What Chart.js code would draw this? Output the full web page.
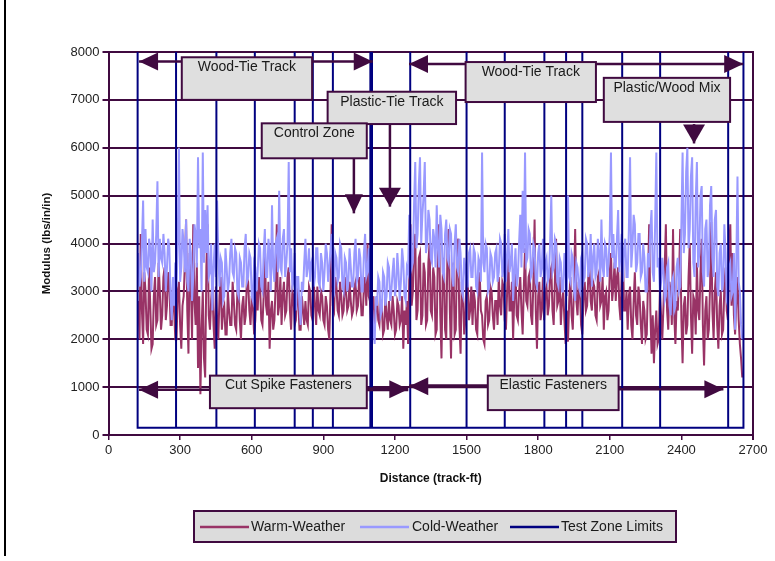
<!DOCTYPE html>
<html>
<head>
<meta charset="utf-8">
<script src="https://cdn.jsdelivr.net/npm/chart.js@4.4.1/dist/chart.umd.min.js"></script>
<style>
  html, body { margin: 0; padding: 0; background: #fff; }
  #wrap { position: relative; width: 775px; height: 561px; }
</style>
</head>
<body>
<div id="wrap"><canvas id="modChart" width="775" height="561"></canvas></div>
<script>
// readings every 5 track-ft, starting at 125 ft
const START_FT = 125;
const STEP_FT = 5;

const warmWeather = [
  2800, 2000, 4200, 2600, 1900, 3400, 3000, 2200, 2100, 3500, 2700, 1800, 1900, 2900, 3300, 2300, 2400, 3600, 3000, 2200,
  2500, 3300, 3500, 2400, 2700, 3400, 3200, 2300, 2300, 3100, 2600, 2000, 2000, 3000, 3200, 2300, 1800, 2700, 2900, 3600,
  4500, 2600, 1700, 3800, 3200, 2000, 4400, 2800, 2300, 3600, 1400, 2900, 850, 2200, 3000, 1600, 1200, 3500, 4400, 2500,
  2200, 2800, 3200, 2300, 1800, 3100, 2400, 2000, 2900, 3300, 2200, 2600, 2700, 2100, 2100, 3000, 2600, 2300, 2300, 3200,
  2800, 2300, 2200, 3000, 3100, 2400, 2000, 2700, 2900, 2300, 2500, 3300, 3200, 2600, 2300, 2900, 2700, 2100, 2400, 3000,
  2600, 3300, 3100, 2400, 2300, 2900, 4000, 2700, 2500, 3200, 1800, 2600, 2800, 2200, 2400, 3100, 4400, 2500, 2700, 3300,
  2300, 2900, 3200, 2500, 2600, 3300, 3500, 2600, 2200, 3000, 2900, 2300, 2400, 3100, 2800, 2200, 2200, 2900, 2600, 2300,
  2800, 2400, 2300, 3100, 3000, 2500, 2400, 3200, 2700, 2300, 3100, 2600, 2500, 3000, 2900, 2400, 2300, 2900, 2700, 2200,
  2000, 3000, 4400, 2700, 2600, 3300, 3100, 2600, 2500, 3200, 2900, 2500, 2600, 3300, 3000, 2600, 2700, 3200, 2800, 2500,
  2600, 3100, 3200, 2600, 2700, 3300, 3000, 2500, 2500, 3100, 3300, 2700, 4000, 2900, 2800, 2300, 2400, 2900, 2200, 2600,
  2900, 2400, 2300, 2800, 2700, 2100, 2200, 2900, 2500, 2200, 2800, 2400, 2300, 2900, 2600, 2100, 2200, 2800, 2700, 2300,
  2400, 2900, 1800, 2600, 2300, 2800, 1900, 3300, 4400, 2700, 3000, 3900, 4200, 2400, 2600, 3700, 3800, 2300, 2500, 3600,
  3400, 2300, 2400, 3600, 4000, 2600, 2500, 3500, 3300, 2100, 2200, 3800, 4400, 2500, 1600, 3300, 3700, 2200, 2000, 3900,
  4300, 2600, 1600, 3300, 3600, 2100, 2200, 3900, 4100, 2300, 1700, 3200, 3000, 2100, 2400, 3300, 3200, 2400, 2600, 3100,
  2300, 3000, 2800, 2200, 2100, 3000, 3400, 2600, 2500, 2000, 1900, 2800, 2900, 2300, 2400, 3100, 3000, 2500, 2200, 2800,
  2800, 2300, 3300, 2700, 2500, 3200, 3100, 2400, 2200, 3000, 3700, 2600, 2600, 3200, 2000, 2900, 3500, 2500, 2400, 3000,
  3300, 2600, 2100, 3100, 3900, 2800, 2700, 3300, 3400, 2500, 2300, 3200, 4500, 2600, 1800, 2900, 3200, 2400, 2600, 3300,
  2400, 3000, 3100, 2500, 2700, 3400, 3500, 2600, 2300, 3200, 4100, 2700, 2800, 3300, 2300, 2800, 3000, 2400, 1900, 2600,
  1950, 2800, 3300, 2500, 2200, 3100, 4300, 2800, 2500, 3200, 3000, 2300, 2100, 2900, 3200, 2600, 2700, 3300, 3500, 2800,
  2600, 3200, 3100, 2500, 2400, 3300, 3400, 2700, 2800, 3300, 2200, 2900, 3000, 2400, 2600, 3400, 3800, 2800, 3100, 3600,
  2800, 3300, 3500, 2700, 2400, 3400, 3800, 2600, 2600, 3000, 2200, 2900, 3100, 2300, 2000, 2800, 3400, 2500, 2300, 3100,
  2900, 2300, 1900, 2800, 2600, 2000, 2100, 3200, 4400, 2600, 1700, 2500, 1500, 2200, 2600, 1900, 2000, 3000, 2500, 2000,
  2700, 3500, 4400, 2600, 2200, 3200, 3000, 2300, 4300, 2500, 1900, 2800, 2600, 3300, 4300, 2400, 1500, 2700, 2900, 2100,
  2300, 3300, 4000, 2500, 1700, 2900, 2800, 2100, 3600, 2600, 2400, 3400, 4100, 2300, 1450, 2600, 2900, 2000, 2200, 3100,
  4450, 2600, 2000, 3000, 3400, 2300, 1800, 2700, 3000, 2100, 2200, 3100, 3500, 2600, 2400, 3900, 4400, 2700, 3800, 2500,
  2100, 2800, 3300, 2400, 1900, 1600, 1200
];

const coldWeather = [
  3800, 3100, 3300, 4000, 4900, 3200, 4300, 3500, 3400, 4100, 3900, 3000, 4500, 3400, 3600, 4200, 5300, 3300, 4100, 3700,
  3600, 4200, 3800, 3000, 3500, 4100, 3900, 2900, 2400, 3300, 2700, 3600, 3100, 4000, 6000, 3200, 3500, 4300, 4000, 3400,
  4500, 3200, 3000, 4100, 3800, 2800, 3300, 4400, 4200, 3500, 5800, 3900, 4300, 3000, 5900, 3600, 4700, 3800, 4800, 3300,
  3400, 4000, 2600, 3500, 4000, 3300, 4900, 3800, 3100, 3700, 3600, 2800, 2900, 3900, 3500, 3000, 3200, 3800, 4100, 3400,
  3300, 3900, 3800, 3000, 2900, 3700, 3600, 3100, 3100, 3900, 4200, 3200, 3300, 3800, 3700, 2900, 2800, 3600, 3500, 3000,
  3400, 4000, 3900, 3100, 3000, 3800, 4300, 3300, 3300, 4100, 3800, 3000, 4800, 3500, 3200, 4000, 4100, 3400, 5100, 3500,
  3400, 4100, 4300, 3300, 3600, 4000, 5700, 3400, 3900, 3100, 3200, 3800, 2600, 3300, 3300, 2700, 2300, 3200, 3000, 3600,
  4100, 3300, 3500, 3900, 3200, 3600, 3700, 3100, 3300, 3900, 3900, 3200, 3100, 3800, 3600, 3000, 3400, 4000, 3800, 3200,
  3500, 3900, 4200, 3100, 3000, 3800, 3700, 3200, 3300, 4000, 3900, 3100, 3000, 3700, 3600, 3000, 3200, 3900, 3500, 3100,
  3100, 3800, 4100, 3200, 3300, 3900, 3700, 3000, 3000, 3800, 4200, 3300, 3400, 3900, 3200, 2700, 2600, 2200, 1900, 2900,
  2700, 3300, 3200, 2500, 2600, 3400, 3300, 2700, 2900, 3600, 3500, 2800, 3000, 3400, 3700, 2900, 3100, 3800, 3400, 2800,
  3200, 3900, 3600, 2900, 2800, 3500, 3400, 4600, 4300, 3500, 3600, 4800, 5700, 3900, 4200, 5200, 5800, 4000, 4600, 5000,
  5700, 3800, 4000, 4700, 4500, 3700, 3600, 4300, 4100, 3500, 4800, 3900, 3500, 4600, 4300, 3400, 3300, 4200, 4500, 3700,
  3600, 4300, 4200, 3300, 3100, 4000, 4400, 3500, 3400, 4100, 3800, 3000, 2900, 3700, 3500, 3100, 3100, 3800, 3900, 3300,
  3300, 3900, 3800, 3100, 3000, 3700, 3600, 3200, 5900, 3600, 3400, 4000, 3900, 3000, 3100, 3800, 3700, 3200, 3300, 3800,
  3900, 3200, 3400, 4100, 4000, 3300, 3500, 4200, 3200, 3700, 4300, 3400, 3600, 4000, 2800, 3400, 3900, 3100, 3300, 4000,
  4600, 3500, 5100, 3800, 5900, 3600, 3700, 4300, 4200, 3300, 3400, 4000, 3900, 3200, 3100, 3800, 4000, 3300, 3500, 4100,
  3000, 3600, 3700, 3200, 3300, 4000, 5000, 3400, 3500, 4100, 4000, 3200, 3100, 3700, 3600, 3000, 3000, 3800, 3400, 2900,
  5000, 3300, 3200, 3800, 3700, 3000, 2800, 3600, 3500, 3100, 3000, 3700, 3800, 3200, 3300, 4100, 4000, 3300, 3500, 4200,
  3100, 3700, 4000, 3300, 3400, 4100, 3800, 3200, 4500, 3500, 3300, 4000, 3900, 3300, 3600, 4200, 5900, 3700, 4200, 3500,
  3500, 4100, 4700, 3400, 3800, 4200, 3200, 3900, 4100, 3300, 3300, 4300, 5800, 3500, 3900, 4600, 4400, 3400, 3600, 4200,
  4200, 3300, 3400, 4000, 3700, 3000, 3000, 3800, 3500, 4300, 4700, 3400, 3200, 4400, 5900, 3500, 3700, 3000, 3200, 3700,
  3400, 2800, 2900, 3500, 3600, 2700, 2500, 3200, 3300, 2600, 2700, 3500, 3700, 3000, 3100, 4400, 5900, 3800, 4200, 5500,
  6000, 3900, 4300, 5400, 5800, 3600, 3300, 4900, 5700, 3500, 3800, 5000, 5200, 3400, 3100, 4300, 4500, 3300, 3500, 4800,
  5200, 3700, 3300, 4500, 4700, 3100, 2900, 3800, 4000, 3000, 3200, 4400, 3800, 2800, 2700, 3500, 3600, 2900, 3000, 3800,
  2200, 3500, 5400, 3200, 3000, 2300, 2000
];

// test zone boundaries (track-ft)
const zoneLimits = [122, 283, 452, 613, 780, 856, 940, 1097, 1104, 1264,
  1500, 1660, 1826, 1917, 1985, 2152, 2311, 2596, 2660];
const ZONE_LOW = 150;
const ZONE_HIGH = 8000;

const X_MAX = 2700, X_STEP = 300;
const Y_MAX = 8000, Y_STEP = 1000;

const PURPLE = "#400a40";
const WARM = "#993366";
const COLD = "#9999ff";
const NAVY = "#000080";
const FONT = "'Liberation Sans', Arial, sans-serif";

const distance = warmWeather.map((_, i) => START_FT + i * STEP_FT);
const warmPts = warmWeather.map((v, i) => ({ x: distance[i], y: v }));
const coldPts = coldWeather.map((v, i) => ({ x: distance[i], y: v }));
const zonePts = [];
zoneLimits.forEach((b) => {
  zonePts.push({ x: b, y: ZONE_LOW }, { x: b, y: ZONE_HIGH }, { x: b, y: ZONE_LOW });
});

// label boxes and arrows, in data units
const boxes = [
  { text: "Wood-Tie Track", x0: 307, x1: 853, y0: 7000, y1: 7890 },
  { text: "Wood-Tie Track", x0: 1496, x1: 2042, y0: 6955, y1: 7790 },
  { text: "Plastic-Tie Track", x0: 918, x1: 1456, y0: 6495, y1: 7170 },
  { text: "Control Zone", x0: 642, x1: 1082, y0: 5780, y1: 6510 },
  { text: "Plastic/Wood Mix", x0: 2075, x1: 2604, y0: 6540, y1: 7460 },
  { text: "Cut Spike Fasteners", x0: 425, x1: 1082, y0: 560, y1: 1240 },
  { text: "Elastic Fasteners", x0: 1589, x1: 2137, y0: 520, y1: 1240 }
];
const arrows = [
  { from: [128, 7800], to: [1107, 7800], both: true, w: 2.5, hw: 9 },
  { from: [1259, 7750], to: [2659, 7750], both: true, w: 2.5, hw: 9 },
  { from: [1179, 6495], to: [1179, 4770], w: 2.5, hw: 11 },
  { from: [1028, 5780], to: [1028, 4630], w: 2.5, hw: 9 },
  { from: [2453, 6495], to: [2453, 6090], w: 2.5, hw: 11 },
  { from: [425, 945], to: [128, 945], w: 2.5, hw: 9 },
  { from: [1082, 955], to: [1256, 955], w: 4, hw: 9 },
  { from: [1589, 1020], to: [1260, 1020], w: 4, hw: 9 },
  { from: [2137, 955], to: [2576, 955], w: 2.5, hw: 9 }
];

function head(ctx, x0, y0, x1, y1, hw) {
  const ang = Math.atan2(y1 - y0, x1 - x0);
  const len = 19;
  ctx.beginPath();
  ctx.moveTo(x1, y1);
  ctx.lineTo(x1 - len * Math.cos(ang) + hw * Math.sin(ang), y1 - len * Math.sin(ang) - hw * Math.cos(ang));
  ctx.lineTo(x1 - len * Math.cos(ang) - hw * Math.sin(ang), y1 - len * Math.sin(ang) + hw * Math.cos(ang));
  ctx.closePath();
  ctx.fill();
}

const decor = {
  id: "decor",
  afterDatasetsDraw(chart) {
    const { ctx, chartArea: a } = chart;
    const xs = chart.scales.x, ys = chart.scales.y;
    ctx.save();
    ctx.strokeStyle = PURPLE;
    ctx.lineWidth = 2;
    ctx.beginPath();
    ctx.moveTo(a.right, a.top - 1);
    ctx.lineTo(a.right, a.bottom + 5);
    ctx.stroke();

    ctx.fillStyle = PURPLE;
    arrows.forEach((ar) => {
      const x0 = xs.getPixelForValue(ar.from[0]), y0 = ys.getPixelForValue(ar.from[1]);
      const x1 = xs.getPixelForValue(ar.to[0]), y1 = ys.getPixelForValue(ar.to[1]);
      ctx.lineWidth = ar.w;
      ctx.beginPath();
      ctx.moveTo(x0, y0);
      ctx.lineTo(x1, y1);
      ctx.stroke();
      head(ctx, x0, y0, x1, y1, ar.hw);
      if (ar.both) head(ctx, x1, y1, x0, y0, ar.hw);
    });

    boxes.forEach((b) => {
      const l = xs.getPixelForValue(b.x0), r = xs.getPixelForValue(b.x1);
      const t = ys.getPixelForValue(b.y1), btm = ys.getPixelForValue(b.y0);
      ctx.fillStyle = "#dfdfdf";
      ctx.fillRect(l, t, r - l, btm - t);
      ctx.lineWidth = 2;
      ctx.strokeStyle = PURPLE;
      ctx.strokeRect(l, t, r - l, btm - t);
      ctx.fillStyle = "#1a1a1a";
      ctx.font = "14px " + FONT;
      ctx.textAlign = "center";
      ctx.textBaseline = "middle";
      ctx.fillText(b.text, (l + r) / 2, t + 10);
    });
    ctx.restore();
  },
  afterDraw(chart) {
    const { ctx } = chart;
    ctx.save();
    // frame edge at the left
    ctx.strokeStyle = "#000";
    ctx.lineWidth = 2;
    ctx.beginPath();
    ctx.moveTo(5, 0);
    ctx.lineTo(5, 556);
    ctx.stroke();

    // legend
    ctx.fillStyle = "#dcdcdc";
    ctx.fillRect(194, 511, 482, 31);
    ctx.strokeStyle = PURPLE;
    ctx.lineWidth = 2;
    ctx.strokeRect(194, 511, 482, 31);
    const items = [[200, 251], [360, 412], [510, 561]];
    ctx.font = "14px " + FONT;
    ctx.textBaseline = "middle";
    ctx.textAlign = "left";
    chart.data.datasets.forEach((ds, i) => {
      const [sx, tx] = items[i];
      ctx.strokeStyle = ds.borderColor;
      ctx.lineWidth = 2.5;
      ctx.beginPath();
      ctx.moveTo(sx, 527);
      ctx.lineTo(sx + 49, 527);
      ctx.stroke();
      ctx.fillStyle = "#1a1a1a";
      ctx.fillText(ds.label, tx, 527);
    });
    ctx.restore();
  }
};

new Chart(document.getElementById("modChart"), {
  type: "line",
  data: {
    datasets: [
      { label: "Warm-Weather", data: warmPts, borderColor: WARM, borderWidth: 2, order: 3 },
      { label: "Cold-Weather", data: coldPts, borderColor: COLD, borderWidth: 2, order: 2 },
      { label: "Test Zone Limits", data: zonePts, borderColor: NAVY, borderWidth: 2, order: 1 }
    ]
  },
  options: {
    responsive: false,
    animation: false,
    devicePixelRatio: 1,
    elements: { point: { radius: 0 }, line: { tension: 0 } },
    layout: { padding: { left: 36, right: 22, top: 52, bottom: 71 } },
    plugins: { legend: { display: false }, tooltip: { enabled: false } },
    scales: {
      x: {
        type: "linear",
        min: 0,
        max: X_MAX,
        afterFit: (s) => { s.height = 55; },
        ticks: { stepSize: X_STEP, color: "#222", font: { family: FONT, size: 13 }, padding: 3, maxRotation: 0, callback: (v) => String(v) },
        grid: { drawOnChartArea: false, drawTicks: true, tickLength: 5, color: PURPLE, lineWidth: 1.5 },
        border: { color: PURPLE, width: 2 },
        title: { display: true, text: "Distance (track-ft)", color: "#111", font: { family: FONT, size: 12, weight: "bold" }, padding: { top: 4, bottom: 4 } }
      },
      y: {
        min: 0,
        max: Y_MAX,
        afterFit: (s) => { s.width = 72.5; },
        ticks: { stepSize: Y_STEP, color: "#222", font: { family: FONT, size: 13 }, padding: 3, callback: (v) => String(v) },
        grid: { color: PURPLE, lineWidth: 2, tickLength: 6 },
        border: { color: PURPLE, width: 2 },
        title: { display: true, text: "Modulus (lbs/in/in)", color: "#111", font: { family: FONT, size: 11.5, weight: "bold" }, padding: { top: 4, bottom: 4 } }
      }
    }
  },
  plugins: [decor]
});
</script>
</body>
</html>
